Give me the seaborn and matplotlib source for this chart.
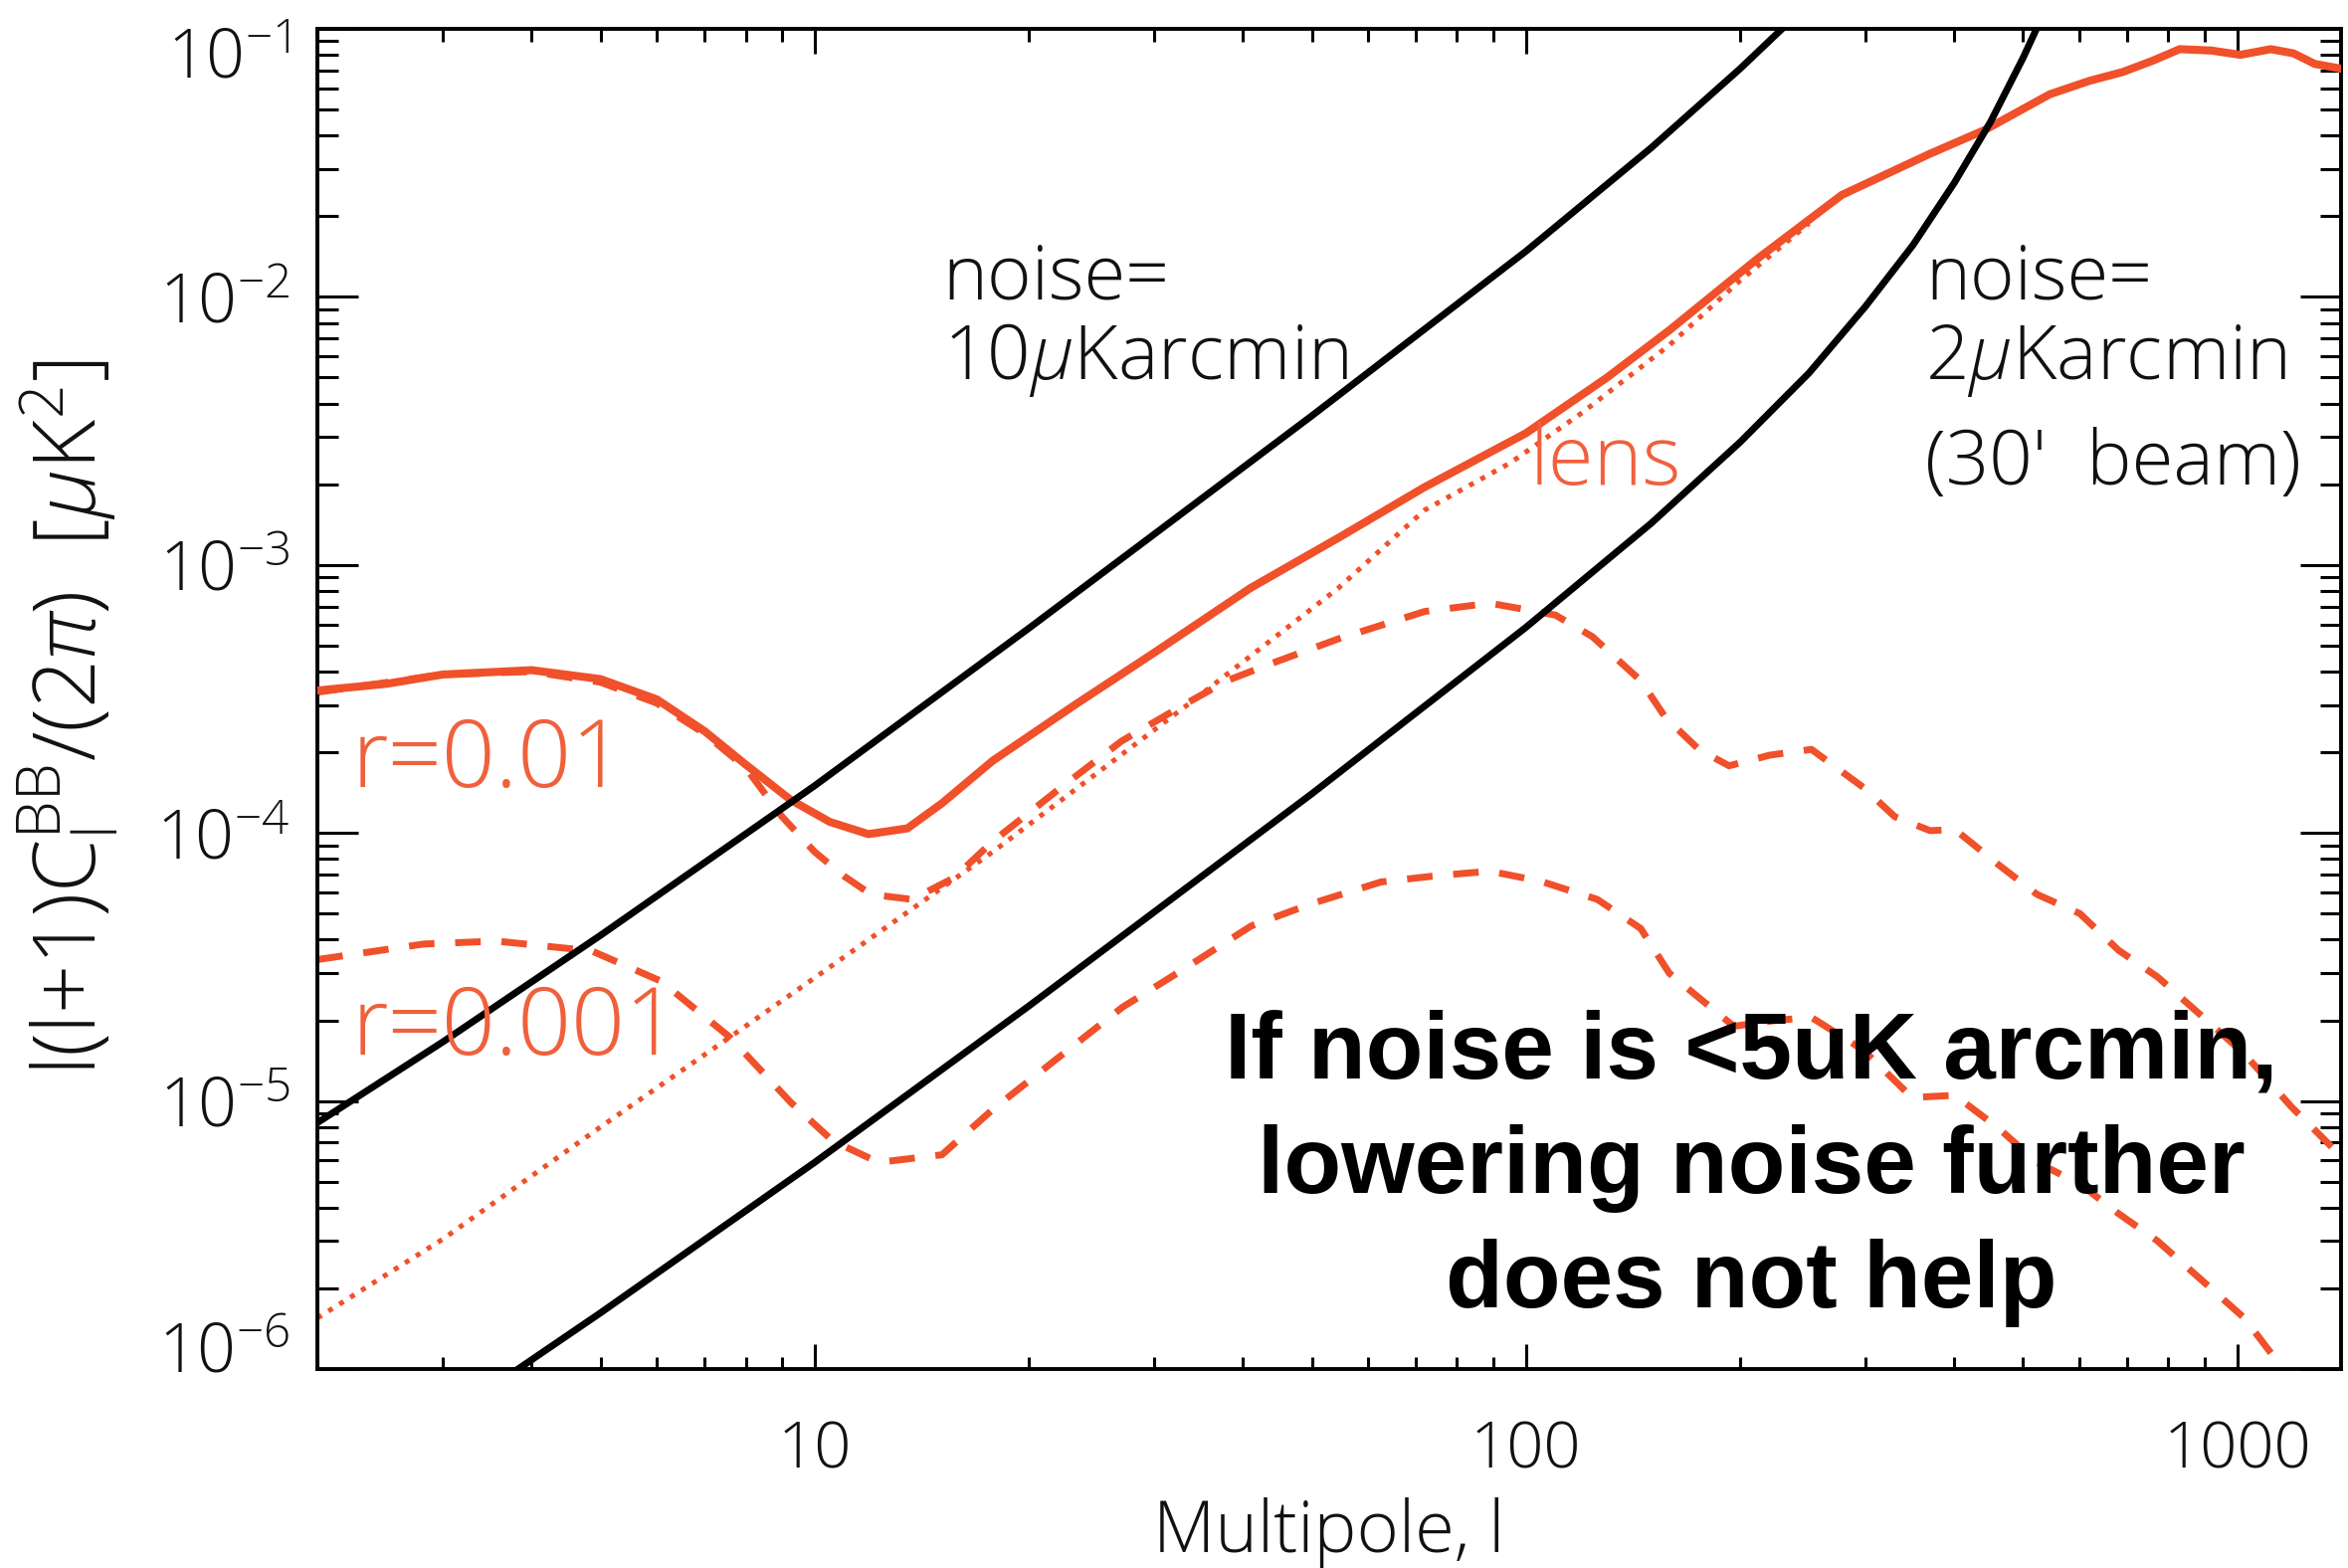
import matplotlib
matplotlib.use("Agg")
import matplotlib.pyplot as plt
import matplotlib.transforms as mtransforms
from matplotlib import font_manager as fm
from matplotlib.ticker import FixedLocator, FixedFormatter, LogLocator, NullFormatter
import seaborn as sns

# ---------------------------------------------------------------- data
# Noise power, 10 uK-arcmin
ell_noise10 = [2, 3, 5, 10, 20, 30, 50, 100, 150, 200, 230]
noise10 = [8.3e-6, 1.66e-5, 4.15e-5, 1.5e-4, 5.8e-4, 1.3e-3, 3.6e-3,
           1.48e-2, 3.6e-2, 7.1e-2, 1.01e-1]

# Noise power, 2 uK-arcmin with 30' beam
ell_noise2 = [3.5, 5, 10, 20, 50, 100, 150, 200, 250, 300, 350, 400, 450,
              500, 530]
noise2 = [8.5e-7, 1.62e-6, 5.9e-6, 2.26e-5, 1.4e-4, 5.85e-4, 1.43e-3,
          2.87e-3, 5.2e-3, 9.2e-3, 1.56e-2, 2.66e-2, 4.5e-2, 7.8e-2, 1.09e-1]

# Total B-mode power (r=0.01 + lensing)
ell_total = [2, 2.5, 3, 4, 5, 6, 7, 8, 9.25, 10.5, 11.9, 13.5, 15.1, 17.8,
             23.2, 30, 41, 55, 72, 100, 130, 159, 211, 278, 368, 442, 545,
             620, 690, 760, 830, 920, 1010, 1115, 1200, 1285, 1400]
bb_total = [3.4e-4, 3.6e-4, 3.9e-4, 4.05e-4, 3.75e-4, 3.15e-4, 2.4e-4,
            1.8e-4, 1.33e-4, 1.1e-4, 9.9e-5, 1.04e-4, 1.29e-4, 1.86e-4,
            3.0e-4, 4.7e-4, 8.2e-4, 1.28e-3, 1.95e-3, 3.1e-3, 5.0e-3,
            7.5e-3, 1.38e-2, 2.4e-2, 3.4e-2, 4.2e-2, 5.7e-2, 6.4e-2,
            6.9e-2, 7.6e-2, 8.4e-2, 8.3e-2, 8.0e-2, 8.4e-2, 8.1e-2,
            7.4e-2, 7.1e-2]

# Lensing B-modes
ell_lens = [2, 3, 5, 7.6, 10, 17.8, 33.4, 54.5, 72, 95, 120, 159, 200, 250]
bb_lens = [1.55e-6, 3.05e-6, 8.0e-6, 1.73e-5, 2.88e-5, 8.5e-5, 3.0e-4,
           8.2e-4, 1.6e-3, 2.4e-3, 3.7e-3, 6.6e-3, 1.15e-2, 1.88e-2]

# Primordial B-modes, r = 0.01
ell_r01 = [2, 3, 4, 5, 6, 7, 8, 9, 10, 11, 12, 13.7, 15.7, 17.8, 22, 27, 33,
           38, 44, 54.5, 72, 89, 110, 124, 145, 157, 175, 193, 220, 252, 298,
           330, 370, 401, 462, 523, 601, 681, 773, 887, 1023, 1192, 1410]
bb_r01 = [3.35e-4, 3.9e-4, 4.0e-4, 3.65e-4, 3.05e-4, 2.35e-4, 1.75e-4,
          1.15e-4, 8.5e-5, 6.9e-5, 5.9e-5, 5.65e-5, 6.8e-5, 9.3e-5, 1.45e-4,
          2.2e-4, 3.0e-4, 3.7e-4, 4.3e-4, 5.3e-4, 6.7e-4, 7.2e-4, 6.5e-4,
          5.4e-4, 3.7e-4, 2.7e-4, 2.05e-4, 1.78e-4, 1.95e-4, 2.05e-4,
          1.48e-4, 1.15e-4, 1.02e-4, 1.03e-4, 7.6e-5, 5.9e-5, 5.0e-5,
          3.65e-5, 2.9e-5, 2.1e-5, 1.5e-5, 9.5e-6, 6.1e-6]

# Primordial B-modes, r = 0.001
ell_r001 = [2, 2.82, 3.57, 4.86, 6.08, 7.6, 9.25, 10.6, 12.3, 15.1, 17.8, 22,
            27.1, 33, 41.1, 50, 62.5, 75, 89, 105, 126, 145, 159, 176, 196,
            225, 252, 298, 349, 401, 462, 523, 601, 681, 773, 887, 1023,
            1160, 1250]
bb_r001 = [3.37e-5, 3.85e-5, 3.95e-5, 3.63e-5, 2.8e-5, 1.73e-5, 9.9e-6,
           7.1e-6, 5.9e-6, 6.3e-6, 9.3e-6, 1.45e-5, 2.24e-5, 3.1e-5, 4.5e-5,
           5.45e-5, 6.56e-5, 6.93e-5, 7.2e-5, 6.6e-5, 5.65e-5, 4.4e-5,
           3.0e-5, 2.4e-5, 1.9e-5, 2.0e-5, 2.05e-5, 1.55e-5, 1.03e-5,
           1.05e-5, 7.9e-6, 5.9e-6, 4.9e-6, 3.8e-6, 3.0e-6, 2.17e-6, 1.55e-6,
           1.0e-6, 8.0e-7]

# Axis ticks
x_ticks = [10, 100, 1000]
x_tick_labels = ["10", "100", "1000"]
y_ticks = [1e-6, 1e-5, 1e-4, 1e-3, 1e-2, 1e-1]
y_tick_labels = [r"$\mathdefault{10^{-6}}$", r"$\mathdefault{10^{-5}}$",
                 r"$\mathdefault{10^{-4}}$", r"$\mathdefault{10^{-3}}$",
                 r"$\mathdefault{10^{-2}}$", r"$\mathdefault{10^{-1}}$"]

# ---------------------------------------------------------------- style
sns.set_theme(style="ticks")


def light_family():
    """Pick an installed sans family that has a Light (~300) face."""
    for fam in ["Open Sans", "Lato", "Roboto", "Noto Sans", "Inter"]:
        weights = []
        for f in fm.fontManager.ttflist:
            if f.name == fam:
                w = f.weight
                if isinstance(w, str):
                    w = fm.weight_dict.get(w, 400)
                weights.append(int(w))
        near = [w for w in weights if 250 <= w <= 350]
        if near:
            return fam, min(near, key=lambda w: abs(w - 300))
    return "DejaVu Sans", 400


FAM, WEIGHT = light_family()
plt.rcParams["font.family"] = [FAM, "DejaVu Sans"]
plt.rcParams["font.weight"] = WEIGHT
plt.rcParams["axes.labelweight"] = WEIGHT
plt.rcParams["mathtext.fontset"] = "custom"
plt.rcParams["mathtext.rm"] = FAM
plt.rcParams["mathtext.it"] = FAM + ":italic"
plt.rcParams["mathtext.bf"] = FAM + ":bold"
plt.rcParams["mathtext.fallback"] = "cm"

RED = "#F0502A"
RED_TXT = "#F0603C"
INK = "#111111"

fig = plt.figure(figsize=(11.8, 7.88), dpi=200)
ax = fig.add_axes([0.1352, 0.1269, 0.8619, 0.8547])
ax.set_xscale("log")
ax.set_yscale("log")

# ---------------------------------------------------------------- curves
line_kw = dict(ax=ax, estimator=None, sort=False, legend=False)
sns.lineplot(x=ell_r001, y=bb_r001, color=RED, linewidth=2.5,
             linestyle=(0, (3.7, 3.0)), zorder=2, **line_kw)
sns.lineplot(x=ell_r01, y=bb_r01, color=RED, linewidth=2.5,
             linestyle=(0, (3.7, 3.0)), zorder=2, **line_kw)
sns.lineplot(x=ell_lens, y=bb_lens, color=RED, linewidth=1.8,
             linestyle=(0, (1.0, 1.6)), zorder=2.5, **line_kw)
sns.lineplot(x=ell_total, y=bb_total, color=RED, linewidth=2.9,
             zorder=3, **line_kw)
sns.lineplot(x=ell_noise10, y=noise10, color="black", linewidth=2.5,
             zorder=4, **line_kw)
sns.lineplot(x=ell_noise2, y=noise2, color="black", linewidth=2.5,
             zorder=4, **line_kw)

ax.set_xlim(2, 1400)
ax.set_ylim(1e-6, 1e-1)

# ---------------------------------------------------------------- axes
for s in ax.spines.values():
    s.set_linewidth(1.4)
    s.set_color("black")
    s.set_visible(True)

ax.xaxis.set_major_locator(FixedLocator(x_ticks))
ax.xaxis.set_major_formatter(FixedFormatter(x_tick_labels))
ax.xaxis.set_minor_locator(LogLocator(base=10, subs=range(2, 10)))
ax.xaxis.set_minor_formatter(NullFormatter())
ax.yaxis.set_major_locator(FixedLocator(y_ticks))
ax.yaxis.set_major_formatter(FixedFormatter(y_tick_labels))
ax.yaxis.set_minor_locator(LogLocator(base=10, subs=range(2, 10)))
ax.yaxis.set_minor_formatter(NullFormatter())

ax.tick_params(which="both", direction="in", top=True, right=True,
               color="black", width=1.1)
ax.tick_params(axis="x", which="major", length=9, pad=18, labelsize=23.5,
               labelcolor=INK)
ax.tick_params(axis="x", which="minor", length=4.5)
ax.tick_params(axis="y", which="major", length=14.8, pad=10, labelsize=24.5,
               labelcolor=INK)
ax.tick_params(axis="y", which="minor", length=7.4)
for lab in ax.get_xticklabels() + ax.get_yticklabels():
    lab.set_fontweight(WEIGHT)

# keep end labels inside the frame
ylabels = ax.yaxis.get_majorticklabels()
ylabels[0].set_transform(ylabels[0].get_transform() +
                         mtransforms.ScaledTranslation(0, 8 / 72, fig.dpi_scale_trans))
ylabels[-1].set_transform(ylabels[-1].get_transform() +
                          mtransforms.ScaledTranslation(0, -8.5 / 72, fig.dpi_scale_trans))

ax.set_xlabel("Multipole, l", fontsize=26, color=INK, fontweight=WEIGHT,
              va="baseline")
ax.xaxis.set_label_coords(0.5, -0.1365)
ax.set_ylabel(r"l(l+1)C$_{\mathdefault{l}}^{\mathdefault{BB}}$/(2$\pi$)  "
              r"[$\mu$K$^{\mathdefault{2}}$]", fontsize=31, color=INK,
              fontweight=WEIGHT)
ax.yaxis.set_label_coords(-0.097, 0.486)

# ---------------------------------------------------------------- labels
tkw = dict(transform=ax.transAxes, va="baseline", ha="left", zorder=5,
           fontweight=WEIGHT)
ax.text(0.309, 0.7988, "noise=", fontsize=27.5, color=INK, **tkw)
ax.text(0.309, 0.739, r"10$\mu$Karcmin", fontsize=27.5, color=INK, **tkw)
ax.text(0.7945, 0.7988, "noise=", fontsize=27.5, color=INK, **tkw)
ax.text(0.7945, 0.739, r"2$\mu$Karcmin", fontsize=27.5, color=INK, **tkw)
ax.text(0.7945, 0.660, "(30'  beam)", fontsize=27.5, color=INK, **tkw)
ax.text(0.599, 0.660, "lens", fontsize=30, color=RED_TXT, **tkw)
ax.text(0.0172, 0.4343, "r=0.01", fontsize=34, color=RED_TXT, **tkw)
ax.text(0.0172, 0.2346, "r=0.001", fontsize=34, color=RED_TXT, **tkw)

bold_fam = ["Liberation Sans Narrow", "Liberation Sans", "DejaVu Sans"]
bkw = dict(transform=ax.transAxes, va="baseline", ha="center", zorder=6,
           fontsize=34, fontweight="bold", color="black", family=bold_fam)
ax.text(0.7085, 0.2168, "If noise is <5uK arcmin,", **bkw)
ax.text(0.7085, 0.1314, "lowering noise further", **bkw)
ax.text(0.7085, 0.0460, "does not help", **bkw)

fig.savefig("out.png", dpi=200, facecolor="white")
